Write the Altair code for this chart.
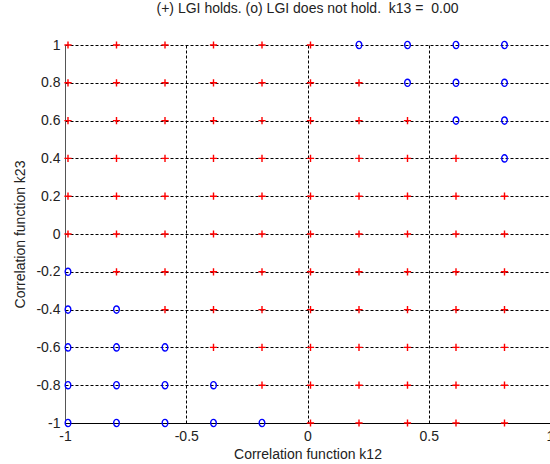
import altair as alt
import pandas as pd

# Grid of correlation values (k12 columns visible in the figure, k23 rows)
k12_values = [-1.0, -0.8, -0.6, -0.4, -0.2, 0.0, 0.2, 0.4, 0.6, 0.8]
k23_values = [1.0, 0.8, 0.6, 0.4, 0.2, 0.0, -0.2, -0.4, -0.6, -0.8, -1.0]
# '+' = LGI holds, 'o' = LGI does not hold (one string per k23 row, one char per k12 column)
lgi_rows = [
    "++++++oooo",
    "+++++++ooo",
    "++++++++oo",
    "+++++++++o",
    "++++++++++",
    "++++++++++",
    "o+++++++++",
    "oo++++++++",
    "ooo+++++++",
    "oooo++++++",
    "ooooo+++++",
]
x_ticks = [-1, -0.5, 0, 0.5, 1]
y_ticks = [-1, -0.8, -0.6, -0.4, -0.2, 0, 0.2, 0.4, 0.6, 0.8, 1]

records = []
for k23, row in zip(k23_values, lgi_rows):
    for k12, sym in zip(k12_values, row):
        records.append({"k12": k12, "k23": k23, "holds": sym})
df = pd.DataFrame(records)

FONT = "Liberation Sans"
TXT = "#222222"

x_enc = alt.X(
    "k12:Q",
    scale=alt.Scale(domain=[-1, 1], nice=False, zero=False),
    axis=alt.Axis(
        values=x_ticks, title="Correlation function k12", grid=True,
        gridDash=[3, 2], gridColor="#000000", gridOpacity=1, ticks=False,
        labelExpr="'' + datum.value", labelPadding=6, labelFlush=False,
        labelOverlap=False, domainColor="#000000", titlePadding=4,
        labelFontSize=14, titleFontSize=14, titleFontWeight="normal",
        labelFont=FONT, titleFont=FONT, labelColor=TXT, titleColor=TXT,
    ),
)
y_enc = alt.Y(
    "k23:Q",
    scale=alt.Scale(domain=[-1, 1], nice=False, zero=False),
    axis=alt.Axis(
        values=y_ticks, title="Correlation function k23", grid=True,
        gridDash=[3, 2], gridColor="#000000", gridOpacity=1, ticks=False,
        labelExpr="'' + datum.value", labelPadding=5, labelFlush=False,
        labelOverlap=False, domainColor="#555555", titlePadding=8,
        labelFontSize=14, titleFontSize=14, titleFontWeight="normal",
        labelFont=FONT, titleFont=FONT, labelColor=TXT, titleColor=TXT,
    ),
)

base = alt.Chart(df).encode(x=x_enc, y=y_enc)

plus = base.transform_filter("datum.holds == '+'").mark_point(
    shape="M-1,0H1M0,-1V1", filled=False, color="#ff0000",
    size=52, strokeWidth=1.4, opacity=1, xOffset=3,
)
circ = base.transform_filter("datum.holds == 'o'").mark_point(
    shape="M-0.78,0A0.78,1,0,1,0,0.78,0A0.78,1,0,1,0,-0.78,0Z", filled=False,
    color="#0000ff", size=52, strokeWidth=1.4, opacity=1, xOffset=3,
)

chart = (
    alt.layer(plus, circ)
    .properties(
        width=485, height=378,
        autosize=alt.AutoSizeParams(type="none"),
        padding={"left": 65, "top": 45, "right": 0, "bottom": 41},
        title=alt.Title(
            "(+) LGI holds. (o) LGI does not hold.\u00a0 k13 =\u00a0 0.00",
            fontSize=14, font=FONT, fontWeight="normal", color=TXT, offset=22,
        ),
        background="white",
    )
    .configure_view(stroke=None)
)

chart.save("out.html", embed_options={"renderer": "svg", "actions": False})
